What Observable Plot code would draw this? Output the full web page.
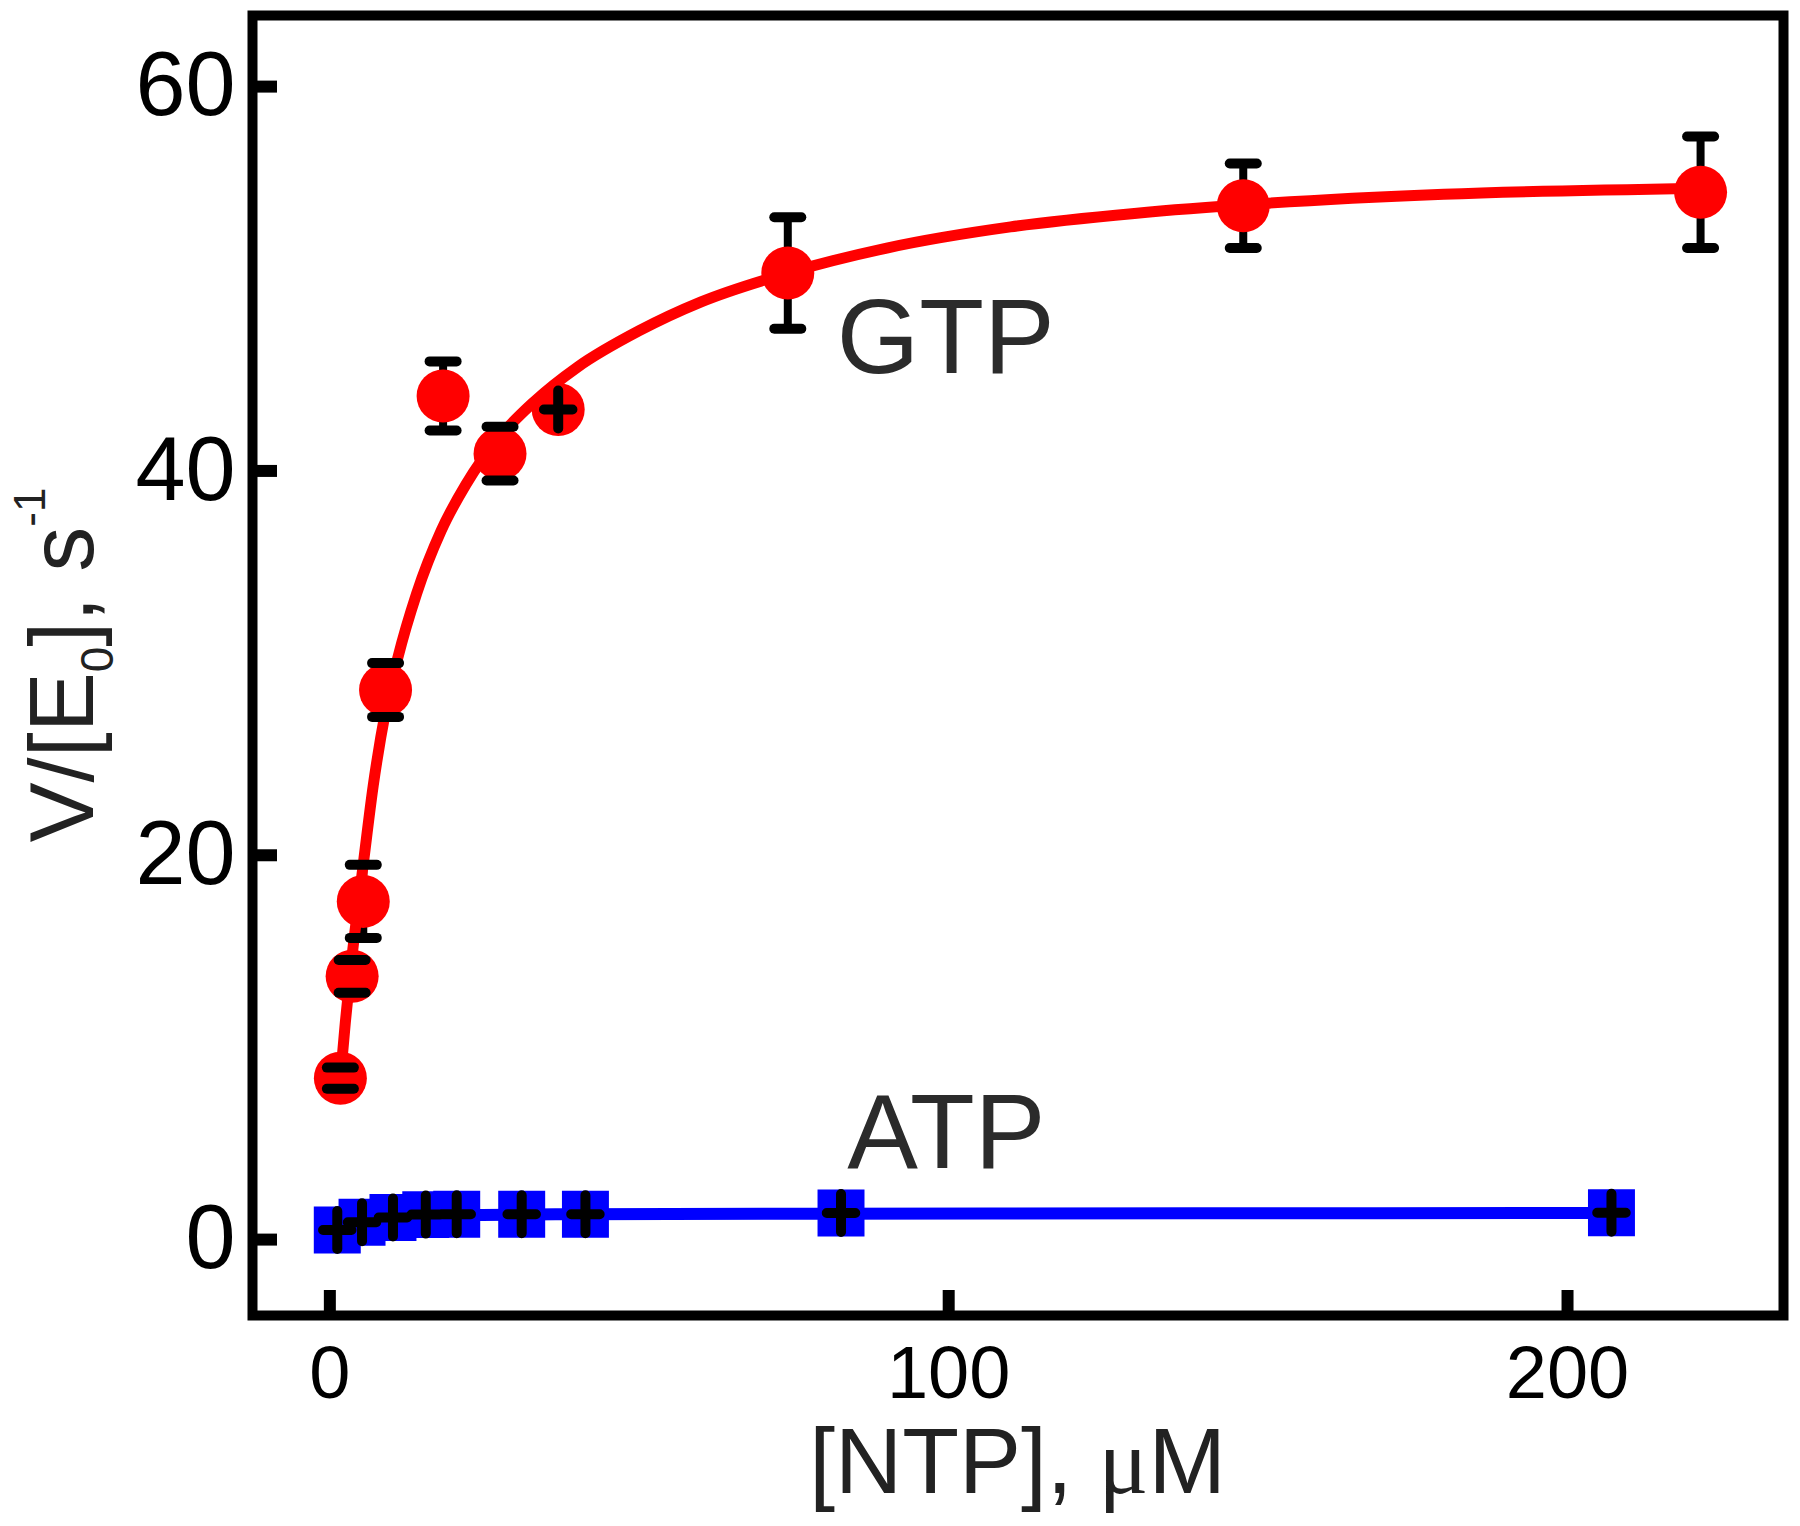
<!DOCTYPE html>
<html><head><meta charset="utf-8">
<script src="https://cdn.jsdelivr.net/npm/d3@7"></script>
<script src="https://cdn.jsdelivr.net/npm/@observablehq/plot@0.6"></script>
<style>html,body{margin:0;padding:0;background:#fff;} svg{display:block;}</style>
</head><body><div id="chart"></div>
<script>
// ---- data ----
const xTicks = [0, 100, 200];
const yTicks = [0, 20, 40, 60];

const gtpConc = [1.7, 3.6, 5.4, 9.0, 18.3, 27.5, 36.9, 74.0, 147.6, 221.5];
const gtpRate = [8.4, 13.7, 17.6, 28.6, 43.9, 40.9, 43.2, 50.3, 53.8, 54.5];
const gtpErr  = [0.55, 0.85, 1.9, 1.4, 1.8, 1.4, 0, 2.9, 2.2, 2.9];
const gtpCross = [false, false, false, false, false, false, true, false, false, false];

const gtpFitConc = [1.7, 2.5, 3.5, 4.5, 5.5, 7, 9, 11, 14, 18, 22, 27.5, 33, 40, 50, 60, 74, 90, 110, 130, 150, 180, 221.5];
const gtpFitRate = [8.4, 11.3, 14.5, 17.2, 19.8, 23.6, 27.5, 30.3, 33.6, 36.9, 39.3, 41.8, 43.6, 45.4, 47.3, 48.8, 50.3, 51.6, 52.7, 53.4, 53.9, 54.4, 54.7];

const atpConc = [1.2, 5.2, 10.2, 15.5, 20.5, 31.0, 41.3, 82.6, 207.1];
const atpRate = [0.5, 0.9, 1.15, 1.3, 1.32, 1.32, 1.32, 1.38, 1.4];

const atpFitConc = [1.2, 3, 5, 8, 12, 20, 40, 80, 140, 207.1];
const atpFitRate = [0.5, 0.8, 1.0, 1.12, 1.2, 1.27, 1.32, 1.35, 1.37, 1.38];

const seriesNames = ["GTP", "ATP"];
const seriesLabelConc = [81.9, 83.6];
const seriesLabelRate = [45.1, 3.75];

// ---- tables ----
const gtp = gtpConc.map((x, i) => ({x, y: gtpRate[i], err: gtpErr[i], cross: gtpCross[i]}));
const gtpBars = gtp.filter(d => d.err > 0);
const gtpCaps = gtpBars.flatMap(d => [{x: d.x, y: d.y + d.err}, {x: d.x, y: d.y - d.err}]);
const gtpFit = gtpFitConc.map((x, i) => ({x, y: gtpFitRate[i]}));
const atp = atpConc.map((x, i) => ({x, y: atpRate[i]}));
const atpFit = atpFitConc.map((x, i) => ({x, y: atpFitRate[i]}));
const labels = seriesNames.map((t, i) => ({t, x: seriesLabelConc[i], y: seriesLabelRate[i]}));

const crossMarks = [...atp, ...gtp.filter(d => d.cross)];

// ---- symbols ----
const capSymbol = {draw(ctx, size) { const r = Math.sqrt(size / Math.PI); ctx.moveTo(-r, 0); ctx.lineTo(r, 0); }};
const plusSymbol = {draw(ctx, size) { const r = Math.sqrt(size / Math.PI); ctx.moveTo(-0.75 * r, 0); ctx.lineTo(0.75 * r, 0); ctx.moveTo(0, -r); ctx.lineTo(0, r); }};

const W = 1800, H = 1526, mL = 252, mR = 17, mT = 15, mB = 211;
const plotW = W - mL - mR, plotH = H - mT - mB;
const RED = "#ff0000", BLUE = "#0000ff";

const svg = Plot.plot({
  width: W, height: H,
  marginLeft: mL, marginRight: mR, marginTop: mT, marginBottom: mB,
  style: {fontFamily: "'Liberation Sans', Arial, sans-serif", background: "#fff", color: "#000"},
  x: {domain: [-12.5, 234.9]},
  y: {domain: [-3.95, 63.7]},
  marks: [
    Plot.axisX({ticks: xTicks, tickSize: 0, tickPadding: 30, fontSize: 74, label: null, fill: "#000"}),
    Plot.axisY({ticks: yTicks, tickSize: 0, tickPadding: 17, fontSize: 90, label: null, fill: "#000"}),
    Plot.tickY(yTicks, {y: d => d, insetRight: plotW - 25, stroke: "#000", strokeWidth: 12}),
    Plot.tickX(xTicks, {x: d => d, insetTop: plotH - 25, stroke: "#000", strokeWidth: 12}),
    // GTP
    Plot.ruleX(gtpBars, {x: "x", y1: d => d.y - d.err, y2: d => d.y + d.err, stroke: "#000", strokeWidth: 8}),
    Plot.line(gtpFit, {x: "x", y: "y", curve: "monotone-x", stroke: RED, strokeWidth: 11}),
    Plot.dot(gtp, {x: "x", y: "y", r: 26.5, fill: RED, stroke: null}),
    Plot.dot(gtpCaps, {x: "x", y: "y", symbol: capSymbol, r: 13.5, fill: "none", stroke: "#000", strokeWidth: 10, strokeLinecap: "round"}),
    // ATP
    Plot.line(atpFit, {x: "x", y: "y", curve: "monotone-x", stroke: BLUE, strokeWidth: 12}),
    Plot.dot(atp, {x: "x", y: "y", symbol: "square", r: 26.5, fill: BLUE, stroke: null}),
    Plot.dot(crossMarks, {x: "x", y: "y", symbol: plusSymbol, r: 19, fill: "none", stroke: "#000", strokeWidth: 10, strokeLinecap: "round"}),
    // series labels
    Plot.text(labels, {x: "x", y: "y", text: "t", textAnchor: "start", lineAnchor: "bottom", fontSize: 106, fill: "#2b2b2b"}),
    Plot.frame({stroke: "#000", strokeWidth: 10})
  ]
});

document.getElementById("chart").appendChild(svg);

// axis titles
const s = d3.select(svg);
const xt = s.append("text")
  .attr("x", (mL + W - mR) / 2).attr("y", 1493)
  .attr("text-anchor", "middle")
  .attr("font-family", "'Liberation Sans', Arial, sans-serif")
  .attr("font-size", 93).attr("fill", "#222");
xt.append("tspan").text("[NTP], ");
xt.append("tspan").attr("font-family", "'Liberation Serif', 'Times New Roman', serif").text("\u03bc");
xt.append("tspan").text("M");

const yt = s.append("text")
  .attr("transform", `translate(93,${(mT + H - mB) / 2}) rotate(-90)`)
  .attr("text-anchor", "middle")
  .attr("font-family", "'Liberation Sans', Arial, sans-serif")
  .attr("font-size", 90).attr("fill", "#222");
yt.append("tspan").text("V/[E");
yt.append("tspan").attr("font-size", 46).attr("dy", 20).text("0");
yt.append("tspan").attr("dy", -20).text("], s");
yt.append("tspan").attr("font-size", 44).attr("dy", -48).text("-1");
</script>
</body></html>
